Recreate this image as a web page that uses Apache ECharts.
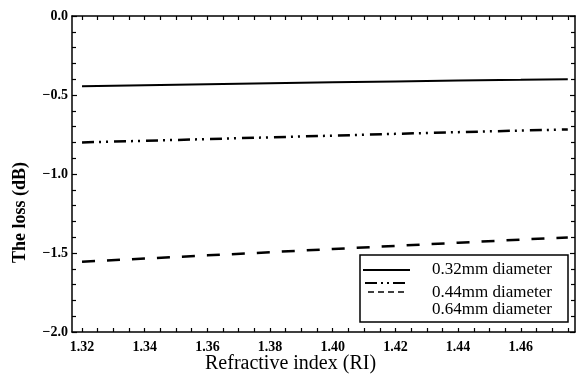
<!DOCTYPE html>
<html>
<head>
<meta charset="utf-8">
<script src="https://cdn.jsdelivr.net/npm/echarts@6/dist/echarts.min.js"></script>
<style>
  html, body { margin: 0; padding: 0; background: #fff; }
  #chart { width: 581px; height: 383px; }
</style>
</head>
<body>
<div id="chart"></div>
<script>
// refractive index samples
const riValues = [1.32, 1.34, 1.36, 1.38, 1.40, 1.42, 1.44, 1.46, 1.475];
// loss (dB) for each fibre diameter
const loss032 = [-0.445, -0.438, -0.432, -0.426, -0.420, -0.414, -0.409, -0.404, -0.400];
const loss044 = [-0.800, -0.790, -0.779, -0.768, -0.757, -0.746, -0.735, -0.725, -0.718];
const loss064 = [-1.555, -1.535, -1.515, -1.495, -1.475, -1.455, -1.435, -1.415, -1.402];
const seriesNames = ['0.32mm diameter', '0.44mm diameter', '0.64mm diameter'];
// tick labels
const xTickLabels = [1.32, 1.34, 1.36, 1.38, 1.40, 1.42, 1.44, 1.46];
const xMinorTicks = [];
for (let v = 1.32; v < 1.476; v += 0.005) xMinorTicks.push(+v.toFixed(3));

const chart = echarts.init(document.getElementById('chart'));
const serif = '"Liberation Serif", "DejaVu Serif", serif';

const pair = (arr) => riValues.map((x, i) => [x, arr[i]]);

const xBase = {
  type: 'value',
  min: 1.3168,
  max: 1.4773,
  splitLine: { show: false },
  axisLine: { onZero: false, lineStyle: { color: '#000', width: 1.5 } },
  axisTick: { inside: true, length: 4, customValues: xMinorTicks, lineStyle: { color: '#000', width: 1.2 } }
};
const yBase = {
  type: 'value',
  min: -2,
  max: 0,
  interval: 0.5,
  splitLine: { show: false },
  axisLine: { onZero: false, lineStyle: { color: '#000', width: 1.5 } },
  axisTick: { inside: true, length: 5, lineStyle: { color: '#000', width: 1.2 } },
  minorTick: { show: true, splitNumber: 5, length: 4, lineStyle: { color: '#000', width: 1.2 } }
};

const option = {
  animation: false,
  backgroundColor: '#fff',
  grid: { left: 72, right: 6, top: 16, bottom: 51 },
  xAxis: [
    Object.assign({}, xBase, {
      position: 'bottom',
      axisLabel: {
        customValues: xTickLabels,
        formatter: (v) => v.toFixed(2),
        color: '#000', fontFamily: serif, fontWeight: 'bold', fontSize: 14, margin: 8
      }
    }),
    Object.assign({}, xBase, { position: 'top', axisLabel: { show: false } })
  ],
  yAxis: [
    Object.assign({}, yBase, {
      position: 'left',
      axisLabel: {
        formatter: (v) => (v < 0 ? '\u2212' + Math.abs(v).toFixed(1) : v.toFixed(1)),
        color: '#000', fontFamily: serif, fontWeight: 'bold', fontSize: 14, margin: 4
      }
    }),
    Object.assign({}, yBase, { position: 'right', axisLabel: { show: false } })
  ],
  series: [
    {
      name: seriesNames[0], type: 'line', showSymbol: false, xAxisIndex: 0, yAxisIndex: 0,
      lineStyle: { color: '#000', width: 2 }, data: pair(loss032)
    },
    {
      name: seriesNames[1], type: 'line', showSymbol: false,
      lineStyle: { color: '#000', width: 2.5, type: [12, 5, 2, 5, 2, 6] }, data: pair(loss044)
    },
    {
      name: seriesNames[2], type: 'line', showSymbol: false,
      lineStyle: { color: '#000', width: 2.5, type: [13, 12] }, data: pair(loss064)
    }
  ],
  graphic: [
    {
      type: 'text', left: 205, top: 354,
      style: { text: 'Refractive index (RI)', font: '20px ' + serif, fill: '#000' }
    },
    {
      type: 'text', x: 11, y: 263, rotation: Math.PI / 2,
      style: { text: 'The loss (dB)', font: 'bold 18px ' + serif, fill: '#000', textAlign: 'left', textVerticalAlign: 'top' }
    },
    // legend box
    {
      type: 'rect', shape: { x: 360, y: 255, width: 208, height: 67 },
      style: { fill: '#fff', stroke: '#000', lineWidth: 1.5 }, z: 10
    },
    {
      type: 'line', shape: { x1: 363, y1: 270, x2: 410, y2: 270 },
      style: { stroke: '#000', lineWidth: 2 }, z: 11
    },
    {
      type: 'line', shape: { x1: 365, y1: 283, x2: 405, y2: 283 },
      style: { stroke: '#000', lineWidth: 2, lineDash: [12, 4, 2, 4, 2, 4] }, z: 11
    },
    {
      type: 'line', shape: { x1: 368, y1: 292, x2: 404, y2: 292 },
      style: { stroke: '#000', lineWidth: 1.5, lineDash: [6, 4] }, z: 11
    },
    {
      type: 'text', x: 432, y: 270, z: 11,
      style: { text: seriesNames[0], font: '17px ' + serif, fill: '#000', textVerticalAlign: 'middle' }
    },
    {
      type: 'text', x: 432, y: 293, z: 11,
      style: { text: seriesNames[1], font: '17px ' + serif, fill: '#000', textVerticalAlign: 'middle' }
    },
    {
      type: 'text', x: 432, y: 310, z: 11,
      style: { text: seriesNames[2], font: '17px ' + serif, fill: '#000', textVerticalAlign: 'middle' }
    }
  ]
};
chart.setOption(option);
</script>
</body>
</html>
